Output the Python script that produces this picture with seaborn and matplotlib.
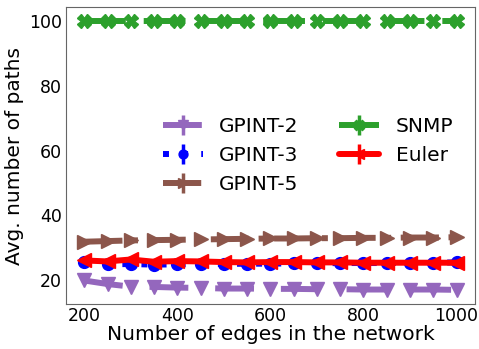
import numpy as np
import pandas as pd
import matplotlib
matplotlib.use("Agg")
import matplotlib.pyplot as plt
import seaborn as sns
from matplotlib.container import ErrorbarContainer

# ---- data ----
edges = [200, 250, 300, 350, 400, 450, 500, 550, 600, 650, 700, 750, 800, 850, 900, 950, 1000]
gpint2 = [19.8, 18.7, 17.9, 17.8, 17.6, 17.5, 17.3, 17.3, 17.2, 17.2, 17.1, 17.1, 17.0, 17.0, 17.0, 17.0, 16.9]
gpint3 = [25.5, 24.8, 24.9, 24.7, 24.8, 24.9, 24.9, 25.0, 25.0, 25.1, 25.1, 25.2, 25.2, 25.2, 25.3, 25.3, 25.4]
gpint5 = [31.8, 32.0, 32.2, 32.3, 32.4, 32.5, 32.6, 32.7, 32.8, 32.8, 32.9, 32.9, 33.0, 33.0, 33.1, 33.1, 33.2]
snmp = [100.0] * 17
euler = [26.0, 25.7, 26.3, 25.6, 25.8, 25.7, 25.5, 25.4, 25.5, 25.5, 25.4, 25.4, 25.3, 25.3, 25.3, 25.3, 25.3]
err = [0.2] * 17

series_names = ["GPINT-2", "GPINT-3", "GPINT-5", "SNMP", "Euler"]
series_values = [gpint2, gpint3, gpint5, snmp, euler]

colors = ["#9467bd", "#0000ff", "#8c564b", "#2ca02c", "#ff0000"]
markers = ["v", "o", ">", "X", "<"]
msizes = [10, 8.5, 10, 10, 10]
styles = [(0, (6.5, 4.5)), (0, (1, 2.2)), (0, (6.4, 1.6, 1, 1.6)), (0, (7, 3)), "-"]

sns.set_style("white")
plt.rcParams["axes.edgecolor"] = "0.4"
plt.rcParams["text.color"] = "black"
plt.rcParams["axes.labelcolor"] = "black"
plt.rcParams["xtick.color"] = "black"
plt.rcParams["ytick.color"] = "black"
plt.rcParams["font.family"] = ["DejaVu Sans"]

fig = plt.figure(figsize=(4.79, 3.49), dpi=100)
ax = fig.add_axes([0.137, 0.129, 0.855, 0.85])

handles = []
for name, vals, c, m, ms, ls in zip(series_names, series_values, colors, markers, msizes, styles):
    df = pd.DataFrame({"edges": edges, "value": vals})
    sns.lineplot(data=df, x="edges", y="value", ax=ax, color=c, marker=m,
                 markersize=ms, markeredgecolor=c, markeredgewidth=1,
                 linestyle=ls, linewidth=4.3, legend=False)
    line = ax.lines[-1]
    eb = ax.errorbar(edges, vals, yerr=err, fmt="none", ecolor=c, elinewidth=2.5)
    handles.append(ErrorbarContainer((line, (), eb.lines[2]), has_xerr=False,
                                     has_yerr=True, label=name))

ax.set_xlabel("Number of edges in the network", fontsize=14.5, labelpad=0)
ax.set_ylabel("Avg. number of paths", fontsize=14.5, labelpad=4)
ax.tick_params(axis="both", labelsize=12.5, length=0, pad=2.5)
ax.set_xticks([200, 400, 600, 800, 1000])
ax.set_yticks([20, 40, 60, 80, 100])

ax.legend(handles=handles, labels=series_names, ncol=2, frameon=False,
          fontsize=14.5, loc="center", bbox_to_anchor=(0.592, 0.50),
          handlelength=2.0, labelspacing=0.5, columnspacing=2.0,
          markerscale=0.75)

fig.savefig("out.png", dpi=100)
